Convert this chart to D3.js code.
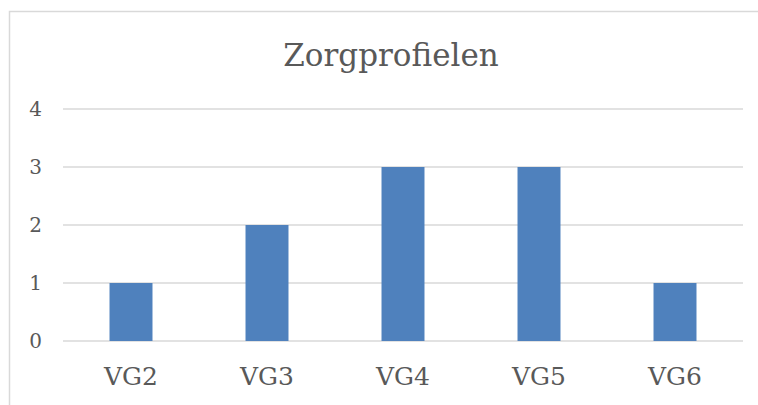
<!DOCTYPE html>
<html>
<head>
<meta charset="utf-8">
<script src="https://cdn.jsdelivr.net/npm/d3@7"></script>
<style>
  body { margin: 0; background: #fff; }
  svg { display: block; }
</style>
</head>
<body>
<div id="chart"></div>
<script>
// data
var categories = ["VG2", "VG3", "VG4", "VG5", "VG6"];
var values = [1, 2, 3, 3, 1];
var yTicks = [0, 1, 2, 3, 4];
var title = "Zorgprofielen";

var w = 758;
var h = 405;
var plotLeft = 63, plotRight = 743, plotTop = 109, plotBottom = 341;

var svg = d3.select("#chart")
            .append("svg")
            .attr("width", w)
            .attr("height", h);

// chart area border (runs off right/bottom edge)
svg.append("rect")
   .attr("x", 9.5)
   .attr("y", 11.5)
   .attr("width", w + 10)
   .attr("height", h + 10)
   .attr("fill", "none")
   .attr("stroke", "#d9d9d9")
   .attr("stroke-width", 1.5);

var x = d3.scaleBand()
          .domain(categories)
          .range([plotLeft, plotRight])
          .paddingInner(0.684)
          .paddingOuter(0.342);

var y = d3.scaleLinear()
          .domain([0, 4])
          .range([plotBottom, plotTop]);

// gridlines
svg.append("g")
   .selectAll("line")
   .data(yTicks)
   .enter()
   .append("line")
   .attr("x1", plotLeft)
   .attr("x2", plotRight)
   .attr("y1", function(d) { return y(d); })
   .attr("y2", function(d) { return y(d); })
   .attr("stroke", "#d9d9d9")
   .attr("stroke-width", 1.5);

// bars
svg.append("g")
   .selectAll("rect")
   .data(values)
   .enter()
   .append("rect")
   .attr("x", function(d, i) { return x(categories[i]); })
   .attr("y", function(d) { return y(d); })
   .attr("width", x.bandwidth())
   .attr("height", function(d) { return y(0) - y(d); })
   .attr("fill", "#4f81bd");

// y axis labels
var yAxis = d3.axisLeft(y).tickValues(yTicks).tickSize(0).tickPadding(0)
              .tickFormat(d3.format("d"));
var gy = svg.append("g")
            .attr("transform", "translate(42,0)")
            .call(yAxis);
gy.select(".domain").remove();
gy.selectAll("text")
  .attr("font-family", "'DejaVu Serif', serif")
  .attr("font-size", "20px")
  .attr("fill", "#595959");

// x axis labels
var xAxis = d3.axisBottom(x).tickSize(0).tickPadding(0);
var gx = svg.append("g")
            .attr("transform", "translate(0,367)")
            .call(xAxis);
gx.select(".domain").remove();
gx.selectAll("text")
  .attr("font-family", "'DejaVu Serif', serif")
  .attr("font-size", "25px")
  .attr("fill", "#595959");

// title
svg.append("text")
   .attr("x", 391)
   .attr("y", 66)
   .attr("text-anchor", "middle")
   .attr("font-family", "'DejaVu Serif', serif")
   .attr("font-size", "31px")
   .attr("fill", "#595959")
   .text(title);
</script>
</body>
</html>
